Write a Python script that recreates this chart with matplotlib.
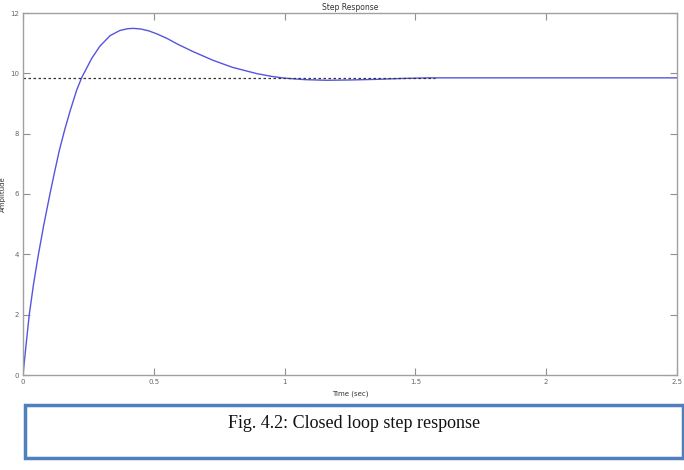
import matplotlib.pyplot as plt
from matplotlib.patches import Rectangle

# step response
t = [0, 0.012, 0.024, 0.040, 0.059, 0.08, 0.103, 0.12, 0.139, 0.16, 0.18,
     0.205, 0.224, 0.245, 0.263, 0.294, 0.333, 0.37, 0.40, 0.422, 0.45,
     0.48, 0.511, 0.55, 0.588, 0.65, 0.727, 0.8, 0.894, 0.95, 1.0, 1.08,
     1.16, 1.25, 1.35, 1.45, 1.55, 1.7, 2.0, 2.5]
amp = [0, 1.02, 2.0, 3.0, 4.0, 5.0, 6.0, 6.7, 7.45, 8.15, 8.75,
       9.44, 9.85, 10.2, 10.5, 10.9, 11.25, 11.42, 11.48, 11.49, 11.47,
       11.41, 11.31, 11.16, 10.98, 10.72, 10.43, 10.2, 9.99, 9.9, 9.84, 9.79,
       9.77, 9.78, 9.8, 9.83, 9.85, 9.85, 9.85, 9.85]
final_value = 9.85
dash_end = 1.575

xticks = [0, 0.5, 1, 1.5, 2, 2.5]
yticks = [0, 2, 4, 6, 8, 10, 12]

fig = plt.figure(figsize=(6.84, 4.70), dpi=100)
ax = fig.add_axes([23 / 684, 95 / 470, 654 / 684, 362 / 470])

ax.plot(t, amp, color="#5555dd", lw=1.0)
ax.plot([0, dash_end], [final_value, final_value], color="#333333",
        lw=0.9, ls=(0, (2, 2)))

ax.set_xlim(0, 2.5)
ax.set_ylim(0, 12)
ax.set_xticks(xticks)
ax.set_xticklabels(["0", "0.5", "1", "1.5", "2", "2.5"])
ax.set_yticks(yticks)
for s in ax.spines.values():
    s.set_color("#a0a0a0")
    s.set_linewidth(1.0)
ax.tick_params(direction="in", length=5, width=0.8, color="#909090",
               labelsize=5, labelcolor="#666666", top=True, right=True, pad=3)

ax.set_title("Step Response", fontsize=5.5, color="#333333", pad=2)
ax.set_xlabel("Time (sec)", fontsize=5, color="#333333", labelpad=4)
ax.set_ylabel("Amplitude", fontsize=5, color="#333333", labelpad=3)

# caption box under the chart
fig.patches.append(Rectangle((25 / 684, 12 / 470), 658 / 684, 53 / 470,
                             transform=fig.transFigure, fill=False,
                             edgecolor="#4f7fbc", lw=2.5))
fig.text(228 / 684, 1 - 423 / 470, "Fig. 4.2: Closed loop step response",
         family="Liberation Serif", fontsize=13, color="#111111",
         va="center", ha="left")

fig.savefig("out.png", dpi=100)
